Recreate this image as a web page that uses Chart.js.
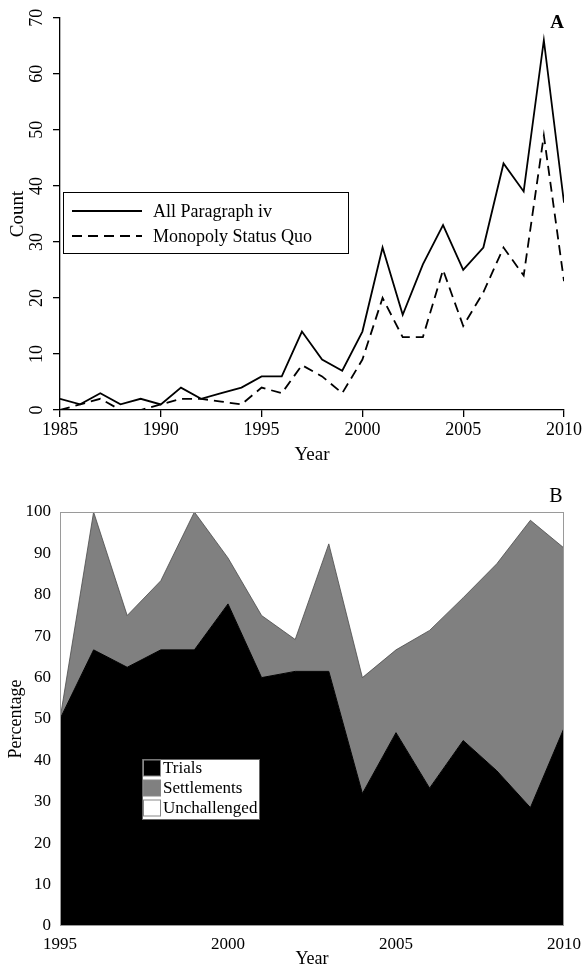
<!DOCTYPE html>
<html>
<head>
<meta charset="utf-8">
<script src="https://cdn.jsdelivr.net/npm/chart.js@4/dist/chart.umd.min.js"></script>
<style>
  html, body { margin: 0; padding: 0; background: #fff; }
  #wrap { position: relative; width: 584px; height: 970px; }
  #countChart { position: absolute; left: 0; top: 0; }
  #shareChart { position: absolute; left: 0; top: 470px; }
</style>
</head>
<body>
<div id="wrap">
  <canvas id="countChart" width="584" height="470"></canvas>
  <canvas id="shareChart" width="584" height="500"></canvas>
</div>
<script>
// Panel A: yearly counts of Paragraph IV filings
const years = [1985, 1986, 1987, 1988, 1989, 1990, 1991, 1992, 1993, 1994, 1995, 1996, 1997,
               1998, 1999, 2000, 2001, 2002, 2003, 2004, 2005, 2006, 2007, 2008, 2009, 2010];
const allParagraphIV = [2, 1, 3, 1, 2, 1, 4, 2, 3, 4, 6, 6, 14,
                        9, 7, 14, 29, 17, 26, 33, 25, 29, 44, 39, 66, 37];
const monopolyStatusQuo = [0, 1, 2, 0, 0, 1, 2, 2, 1.5, 1, 4, 3, 8,
                           6, 3, 9, 20, 13, 13, 25, 15, 21, 29, 24, 49, 23];
const countYearTicks = [1985, 1990, 1995, 2000, 2005, 2010];
const countTicks = [0, 10, 20, 30, 40, 50, 60, 70];

// Panel B: share of outcomes (percent)
const shareYears = [1995, 1996, 1997, 1998, 1999, 2000, 2001, 2002,
                    2003, 2004, 2005, 2006, 2007, 2008, 2009, 2010];
const trialsPct = [50, 66.7, 62.5, 66.7, 66.7, 77.8, 60, 61.5,
                   61.5, 32, 46.7, 33.3, 44.8, 37.5, 28.6, 47.8];
const settlementsPct = [0, 33.3, 12.5, 16.7, 33.3, 11.1, 15, 7.7,
                        30.8, 28, 20, 38.1, 34.5, 50, 69.4, 43.5];
const unchallengedPct = [50, 0, 25, 16.6, 0, 11.1, 25, 30.8,
                         7.7, 40, 33.3, 28.6, 20.7, 12.5, 2.0, 8.7];
const shareYearTicks = [1995, 2000, 2005, 2010];
const shareTicks = [0, 10, 20, 30, 40, 50, 60, 70, 80, 90, 100];

const SERIF = "'Liberation Serif', 'Times New Roman', serif";

function pts(xs, ys) { return xs.map((x, i) => ({ x: x, y: ys[i] })); }
function fixedTicks(list) {
  return function (scale) { scale.ticks = list.map(v => ({ value: v })); };
}
const plainLabel = v => String(v);

// Boxed legend and panel letter for the count panel
const countDecor = {
  id: 'countDecor',
  afterDraw(chart) {
    const ctx = chart.ctx;
    ctx.save();
    ctx.strokeStyle = '#000';
    ctx.lineWidth = 1;
    ctx.fillStyle = '#fff';
    ctx.fillRect(63.5, 192.5, 285, 61);
    ctx.strokeRect(63.5, 192.5, 285, 61);
    const rows = [211, 236];
    chart.data.datasets.forEach((ds, i) => {
      ctx.beginPath();
      ctx.setLineDash(ds.borderDash || []);
      ctx.lineWidth = ds.borderWidth;
      ctx.strokeStyle = ds.borderColor;
      ctx.moveTo(72, rows[i]);
      ctx.lineTo(142, rows[i]);
      ctx.stroke();
      ctx.setLineDash([]);
      ctx.fillStyle = '#000';
      ctx.font = '18px ' + SERIF;
      ctx.textAlign = 'left';
      ctx.textBaseline = 'middle';
      ctx.fillText(ds.label, 153, rows[i] + 1);
    });
    ctx.font = 'bold 19px ' + SERIF;
    ctx.textAlign = 'center';
    ctx.textBaseline = 'middle';
    ctx.fillText('A', 557, 23);
    ctx.restore();
  }
};

// Plot frame, legend and panel letter for the share panel
const shareDecor = {
  id: 'shareDecor',
  afterDraw(chart) {
    const ctx = chart.ctx;
    const a = chart.chartArea;
    ctx.save();
    ctx.strokeStyle = '#9a9a9a';
    ctx.lineWidth = 1;
    ctx.strokeRect(a.left + 0.5, a.top + 0.5, a.right - a.left - 1, a.bottom - a.top - 1);

    ctx.fillStyle = '#fff';
    ctx.fillRect(142, 289, 117, 60);
    ctx.strokeStyle = '#666';
    ctx.strokeRect(142.5, 289.5, 117, 60);
    const rows = [298, 318, 338];
    chart.data.datasets.forEach((ds, i) => {
      ctx.fillStyle = ds.backgroundColor;
      ctx.fillRect(143.5, rows[i] - 8, 17, 16);
      ctx.strokeStyle = '#888';
      ctx.strokeRect(143.5, rows[i] - 8, 17, 16);
      ctx.fillStyle = '#000';
      ctx.font = '17px ' + SERIF;
      ctx.textAlign = 'left';
      ctx.textBaseline = 'middle';
      ctx.fillText(ds.label, 163, rows[i] + 1);
    });
    ctx.font = '20px ' + SERIF;
    ctx.textAlign = 'center';
    ctx.textBaseline = 'middle';
    ctx.fillStyle = '#000';
    ctx.fillText('B', 556, 27);
    ctx.restore();
  }
};

new Chart(document.getElementById('countChart'), {
  type: 'line',
  data: {
    datasets: [
      { label: 'All Paragraph iv', data: pts(years, allParagraphIV),
        borderColor: '#000', borderWidth: 1.8, pointRadius: 0, tension: 0, fill: false },
      { label: 'Monopoly Status Quo', data: pts(years, monopolyStatusQuo),
        borderColor: '#000', borderWidth: 1.8, borderDash: [10, 6], pointRadius: 0, tension: 0, fill: false }
    ]
  },
  options: {
    responsive: false,
    animation: false,
    devicePixelRatio: 1,
    layout: { padding: { top: 14, right: 20, left: 0, bottom: 0 } },
    plugins: { legend: { display: false }, tooltip: { enabled: false } },
    scales: {
      x: {
        type: 'linear', min: 1985, max: 2010,
        afterBuildTicks: fixedTicks(countYearTicks),
        afterFit: s => { s.height = 60; },
        grid: { display: true, drawOnChartArea: false, drawTicks: true, tickLength: 7, color: '#000', lineWidth: 1.3 },
        border: { display: true, color: '#000', width: 1.3 },
        ticks: { color: '#000', font: { family: SERIF, size: 18 }, padding: 2, maxRotation: 0, callback: plainLabel },
        title: { display: true, text: 'Year', color: '#000', font: { family: SERIF, size: 19 }, padding: { top: 0, bottom: 4 } }
      },
      y: {
        min: 0, max: 70,
        afterBuildTicks: fixedTicks(countTicks),
        afterFit: s => { s.width = 60; },
        grid: { display: true, drawOnChartArea: false, drawTicks: true, tickLength: 7, color: '#000', lineWidth: 1.3 },
        border: { display: true, color: '#000', width: 1.3 },
        ticks: { color: '#000', font: { family: SERIF, size: 18 }, padding: 7, minRotation: 90, maxRotation: 90, crossAlign: 'center', callback: plainLabel },
        title: { display: true, text: 'Count', color: '#000', font: { family: SERIF, size: 19 }, padding: { top: 7, bottom: 0 } }
      }
    }
  },
  plugins: [countDecor]
});

new Chart(document.getElementById('shareChart'), {
  type: 'line',
  data: {
    datasets: [
      { label: 'Trials', data: pts(shareYears, trialsPct),
        backgroundColor: '#000', borderColor: '#000', borderWidth: 1, pointRadius: 0, tension: 0, fill: 'origin' },
      { label: 'Settlements', data: pts(shareYears, settlementsPct),
        backgroundColor: '#808080', borderColor: '#4a4a4a', borderWidth: 0.8, pointRadius: 0, tension: 0, fill: '-1' },
      { label: 'Unchallenged', data: pts(shareYears, unchallengedPct),
        backgroundColor: '#ffffff', borderColor: 'rgba(0,0,0,0)', borderWidth: 0, pointRadius: 0, tension: 0, fill: '-1' }
    ]
  },
  options: {
    responsive: false,
    animation: false,
    devicePixelRatio: 1,
    layout: { padding: { top: 42, right: 20, left: 0, bottom: 0 } },
    plugins: { legend: { display: false }, tooltip: { enabled: false } },
    scales: {
      x: {
        type: 'linear', min: 1995, max: 2010,
        afterBuildTicks: fixedTicks(shareYearTicks),
        afterFit: s => { s.height = 44; },
        grid: { display: false, drawTicks: true, tickLength: 9 },
        border: { display: false },
        ticks: { color: '#000', font: { family: SERIF, size: 17 }, padding: -1, maxRotation: 0, callback: plainLabel },
        title: { display: true, text: 'Year', color: '#000', font: { family: SERIF, size: 18 }, padding: { top: 0, bottom: 0 } }
      },
      y: {
        stacked: true, min: 0, max: 100,
        afterBuildTicks: fixedTicks(shareTicks),
        afterFit: s => { s.width = 60; },
        grid: { display: false, drawTicks: false },
        border: { display: false },
        ticks: { color: '#000', font: { family: SERIF, size: 17 }, padding: 9, callback: plainLabel },
        title: { display: true, text: 'Percentage', color: '#000', font: { family: SERIF, size: 18 }, padding: { top: 5, bottom: 0 } }
      }
    }
  },
  plugins: [shareDecor]
});
</script>
</body>
</html>
